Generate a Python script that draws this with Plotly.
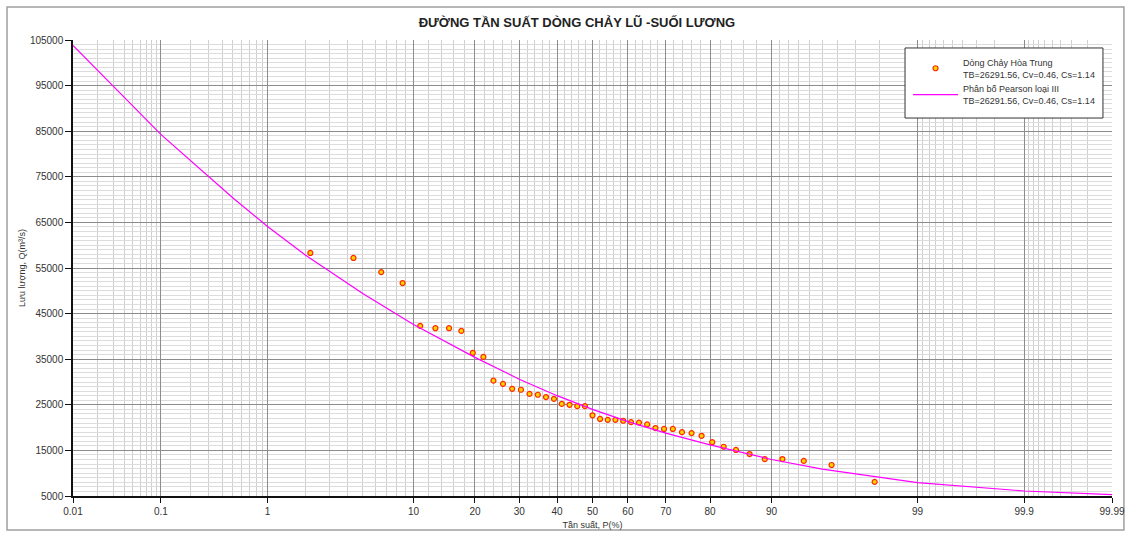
from statistics import NormalDist
import plotly.graph_objects as go

# ---------------- data ----------------
tick_p = [0.01, 0.1, 1, 10, 20, 30, 40, 50, 60, 70, 80, 90, 99, 99.9, 99.99]
tick_labels = ["0.01", "0.1", "1", "10", "20", "30", "40", "50", "60", "70", "80", "90", "99", "99.9", "99.99"]

minor_p = ([0.02, 0.03, 0.04, 0.05, 0.06, 0.07, 0.08, 0.09,
            0.2, 0.3, 0.4, 0.5, 0.6, 0.7, 0.8, 0.9,
            2, 3, 4, 5, 6, 7, 8, 9,
            12, 14, 16, 18, 22, 24, 26, 28, 32, 34, 36, 38, 42, 44, 46, 48,
            52, 54, 56, 58, 62, 64, 66, 68, 72, 74, 76, 78, 82, 84, 86, 88,
            91, 92, 93, 94, 95, 96, 97, 98,
            99.1, 99.2, 99.3, 99.4, 99.5, 99.6, 99.7, 99.8,
            99.91, 99.92, 99.93, 99.94, 99.95, 99.96, 99.97, 99.98])

# observed flood peaks (Dòng Chảy Hòa Trung)
p_obs = [2.17, 4.35, 6.52, 8.70, 10.87, 13.04, 15.22, 17.39, 19.57, 21.74,
         23.91, 26.09, 28.26, 30.43, 32.61, 34.78, 36.96, 39.13, 41.30, 43.48,
         45.65, 47.83, 50.00, 52.17, 54.35, 56.52, 58.70, 60.87, 63.04, 65.22,
         67.39, 69.57, 71.74, 73.91, 76.09, 78.26, 80.43, 82.61, 84.78, 86.96,
         89.13, 91.30, 93.48, 95.65, 97.83]
q_obs = [58300, 57200, 54100, 51700, 42300, 41800, 41800, 41200, 36400, 35500,
         30300, 29600, 28500, 28300, 27400, 27200, 26700, 26300, 25200, 25000,
         24700, 24700, 22700, 21900, 21700, 21700, 21500, 21200, 21100, 20700,
         19900, 19700, 19700, 19000, 18800, 18200, 16800, 15800, 15100, 14200,
         13100, 13100, 12700, 11800, 8100]

# Pearson III curve
p_curve = [0.01, 0.1, 0.5, 1, 2, 5, 10, 20, 30, 40, 50, 60, 70, 80, 90, 95, 99, 99.9, 99.99]
q_curve = [103800, 84300, 70400, 64100, 57800, 49400, 42600, 35400, 30600, 27000,
           24000, 21300, 18800, 16200, 13000, 10900, 7950, 6100, 5300]

y_ticks = [5000, 15000, 25000, 35000, 45000, 55000, 65000, 75000, 85000, 95000, 105000]

# ---------------- probability-paper scale ----------------
nd = NormalDist()
def prob(p):
    return nd.inv_cdf(p / 100.0)

FONT = "Liberation Sans, Arial, sans-serif"

fig = go.Figure()

fig.add_trace(go.Scatter(
    x=[prob(p) for p in p_obs], y=q_obs, mode="markers",
    name="Dòng Chảy Hòa Trung<br>TB=26291.56, Cv=0.46, Cs=1.14",
    marker=dict(size=5, color="#FFD400", line=dict(color="#FF2A00", width=1.2)),
))
fig.add_trace(go.Scatter(
    x=[prob(p) for p in p_curve], y=q_curve, mode="lines",
    name="Phân bố Pearson loại III<br>TB=26291.56, Cv=0.46, Cs=1.14",
    line=dict(color="#FF00FF", width=1.2),
))

xmin, xmax = prob(0.01), prob(99.99)

fig.update_layout(
    width=1131, height=535,
    margin=dict(l=73, r=19, t=40, b=39, autoexpand=False),
    paper_bgcolor="white", plot_bgcolor="white",
    font=dict(family=FONT, size=10, color="#333"),
    title=dict(text="ĐƯỜNG TẦN SUẤT DÒNG CHẢY LŨ -SUỐI LƯƠNG",
               x=0.485, xref="paper", xanchor="center", y=0.958, yanchor="middle",
               font=dict(family=FONT, size=13, color="#222", weight="bold")),
    showlegend=True,
    legend=dict(x=0.8037, y=0.978, xanchor="left", yanchor="top",
                bgcolor="rgba(0,0,0,0)", borderwidth=0,
                font=dict(family=FONT, size=9, color="#333"),
                itemwidth=45, tracegroupgap=6),
    xaxis=dict(
        range=[xmin, xmax], tickmode="array", automargin=False,
        tickvals=[prob(p) for p in tick_p], ticktext=tick_labels,
        showgrid=True, gridcolor="#8c8c8c", gridwidth=1,
        showline=True, linecolor="#111", linewidth=1.5,
        ticks="outside", ticklen=5, tickcolor="#111",
        zeroline=False,
        minor=dict(tickmode="array", tickvals=[prob(p) for p in minor_p],
                   showgrid=True, gridcolor="#cfcfcf", gridwidth=1, ticks=""),
        title=dict(text="Tần suất, P(%)", font=dict(size=9, color="#333"), standoff=6),
        tickfont=dict(size=10, color="#333"),
    ),
    yaxis=dict(
        range=[5000, 105000], tickmode="array", tickvals=y_ticks, automargin=False,
        ticktext=[str(v) for v in y_ticks],
        showgrid=True, gridcolor="#8c8c8c", gridwidth=1,
        showline=True, linecolor="#111", linewidth=1.5,
        ticks="outside", ticklen=6, tickcolor="#111",
        zeroline=False,
        minor=dict(tick0=5000, dtick=1000, showgrid=True, gridcolor="#dcdcdc",
                   gridwidth=1, ticks=""),
        title=dict(text="Lưu lượng, Q(m³/s)", font=dict(size=9, color="#333"), standoff=3),
        tickfont=dict(size=10, color="#333"),
    ),
)

# outer frame of the chart
fig.add_shape(type="rect", xref="paper", yref="paper",
              x0=-0.0635, x1=1.0115, y0=-0.0746, y1=1.0724,
              line=dict(color="#a0a0a0", width=1.5), fillcolor="rgba(0,0,0,0)", layer="below")
# legend box
fig.add_shape(type="rect", xref="paper", yref="paper",
              x0=0.8008, x1=0.9913, y0=0.8289, y1=0.9825,
              line=dict(color="#333", width=1), fillcolor="white", layer="above")

fig.write_html("out.html", config={"displayModeBar": False},
               post_script="document.body.style.margin='0';document.body.style.overflow='hidden';")
